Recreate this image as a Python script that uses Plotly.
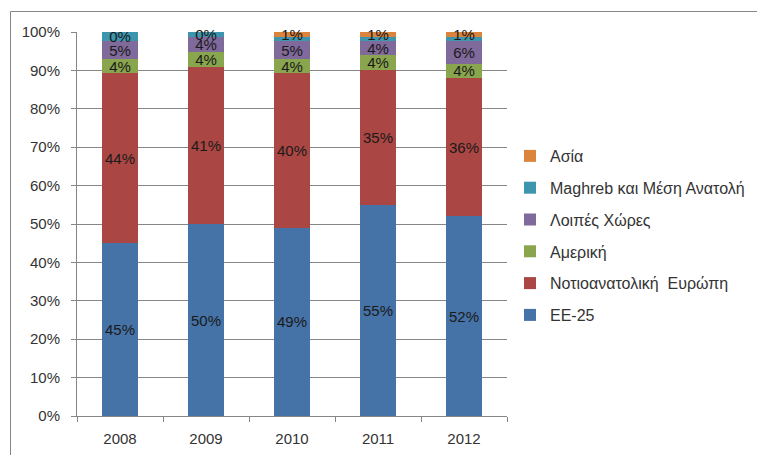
import plotly.graph_objects as go

years = ["2008", "2009", "2010", "2011", "2012"]

ee25 = [45, 50, 49, 55, 52]
se_europe = [44.2, 40.9, 40.2, 35, 36.0]
america = [3.7, 4, 3.7, 3.9, 3.7]
other = [4.8, 3.8, 4.8, 3.8, 6]
maghreb = [2.3, 1.3, 1, 1, 1]
asia = [0, 0, 1.3, 1.3, 1.3]

ee25_lbl = ["45%", "50%", "49%", "55%", "52%"]
se_europe_lbl = ["44%", "41%", "40%", "35%", "36%"]
america_lbl = ["4%", "4%", "4%", "4%", "4%"]
other_lbl = ["5%", "4%", "5%", "4%", "6%"]
maghreb_lbl = ["0%", "0%", "", "", ""]
asia_lbl = ["", "", "1%", "1%", "1%"]

series = [
    ("EE-25", ee25, ee25_lbl, "#4572A7"),
    ("Νοτιοανατολική  Ευρώπη", se_europe, se_europe_lbl, "#AA4643"),
    ("Αμερική", america, america_lbl, "#89A54E"),
    ("Λοιπές Χώρες", other, other_lbl, "#80699B"),
    ("Maghreb και Μέση Ανατολή", maghreb, maghreb_lbl, "#3D96AE"),
    ("Ασία", asia, asia_lbl, "#DB843D"),
]

FONT = "Liberation Sans"

fig = go.Figure()
n = len(series)
for i, (name, vals, lbls, col) in enumerate(series):
    fig.add_trace(go.Bar(
        x=years, y=vals, name=name, text=lbls, texttemplate="%{text}",
        textposition="inside", insidetextanchor="middle", textangle=0,
        textfont=dict(color="#1a1a1a", size=15, family=FONT),
        marker=dict(color=col, line=dict(width=0)),
        legendgroup=f"g{i}", legendrank=n - i, cliponaxis=False,
    ))

W, H = 757, 455
l, r, t, b = 77, 250, 32, 39
pw, ph = W - l - r, H - t - b

def px(x):
    return (x - l) / pw

def py(y):
    return (H - b - y) / ph

border = dict(color="#868686", width=1)

fig.update_layout(
    width=W, height=H,
    barmode="stack", bargap=0.59,
    margin=dict(l=l, r=r, t=t, b=b, autoexpand=False),
    plot_bgcolor="white", paper_bgcolor="white",
    font=dict(family=FONT, size=14, color="#333333"),
    uniformtext=dict(minsize=15, mode="show"),
    showlegend=True,
    legend=dict(
        x=px(510), y=py(139), xanchor="left", yanchor="top",
        traceorder="grouped", tracegroupgap=8,
        font=dict(size=16, color="#333333", family=FONT),
        itemwidth=30,
    ),
    xaxis=dict(
        showgrid=False, showline=True, linecolor="#868686", linewidth=1,
        ticks="outside", tickson="boundaries", ticklen=5, tickcolor="#868686",
        tickfont=dict(size=15, color="#333333"), ticklabelstandoff=9,
    ),
    yaxis=dict(
        range=[0, 100.0001], tickvals=list(range(0, 101, 10)),
        ticktext=[f"{v}%" for v in range(0, 101, 10)],
        showgrid=True, gridcolor="#868686", gridwidth=1,
        showline=True, linecolor="#868686", linewidth=1,
        ticks="outside", ticklen=5, tickcolor="#868686",
        tickfont=dict(size=15, color="#333333"), zeroline=False,
        ticklabelstandoff=8,
    ),
    shapes=[
        dict(type="line", xref="paper", yref="paper",
             x0=px(10.5), x1=px(10.5), y0=py(470), y1=py(11.5), line=border),
        dict(type="line", xref="paper", yref="paper",
             x0=px(10.5), x1=px(770), y0=py(11.5), y1=py(11.5), line=border),
    ],
)

fig.write_html(
    "out.html",
    config={"displayModeBar": False},
    post_script="document.body.style.margin='0';document.body.style.overflow='hidden';",
)
